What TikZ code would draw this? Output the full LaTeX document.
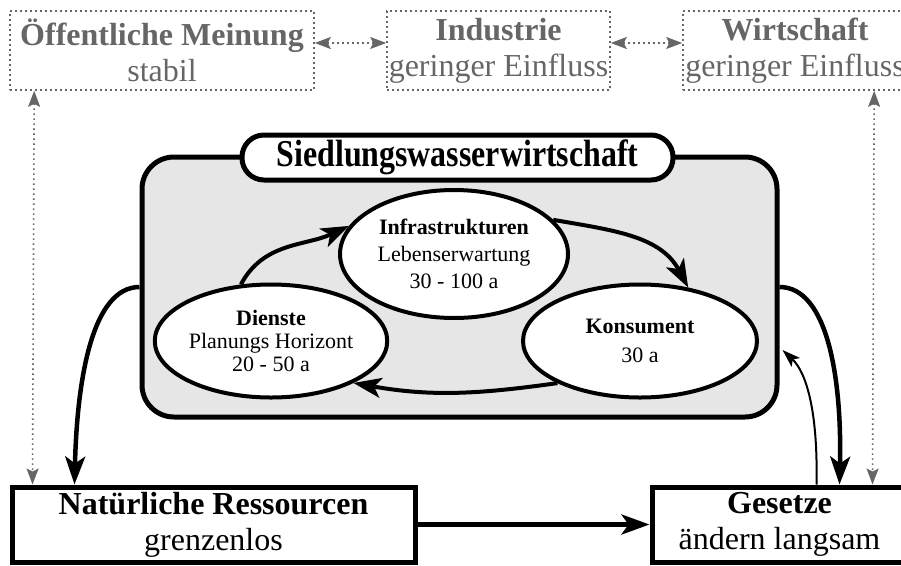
\documentclass[tikz,border=0pt]{standalone}
\usepackage{fontspec}
\usepackage{graphicx}
\setmainfont{Liberation Serif}
\usetikzlibrary{arrows.meta,shapes.geometric}
\definecolor{dgray}{HTML}{666666}
\definecolor{boxgray}{HTML}{E6E6E6}
\tikzset{
  big/.style={font=\fontsize{32}{36}\selectfont},
  small/.style={font=\fontsize{22}{27}\selectfont},
  topbox/.style={draw=dgray, text=dgray, line width=1.6pt, dash pattern=on 1.6pt off 3.4pt, inner sep=0pt, align=center, big},
  botbox/.style={draw=black, line width=5pt, fill=white, inner sep=0pt, align=center, big},
  ell/.style={ellipse, draw=black, line width=4pt, fill=white, inner sep=0pt, align=center, small},
  bigarr/.style={line width=4.5pt, -{Stealth[length=28pt,width=20pt,inset=7pt]}},
  ellarr/.style={line width=4pt, -{Stealth[length=28pt,width=20pt,inset=7pt]}},
  thinarr/.style={line width=2pt, -{Stealth[length=18pt,width=12pt,inset=4pt]}},
  dotarr/.style={draw=dgray, line width=1.6pt, dash pattern=on 1.6pt off 3.4pt, {Stealth[length=16pt,width=12pt,inset=3pt,fill=dgray]}-{Stealth[length=16pt,width=12pt,inset=3pt,fill=dgray]}},
}
\begin{document}
\begin{tikzpicture}[x=1pt,y=-1pt]
\useasboundingbox (0,0) rectangle (901,565);
% top boxes
\node[topbox, minimum width=304pt, minimum height=79pt] (oef) at (162,50.5) {\textbf{Öffentliche Meinung}\\stabil};
\node[topbox, minimum width=223pt, minimum height=79pt] (ind) at (498.5,50.5) {\textbf{Industrie}\\geringer Einfluss};
\node[topbox, minimum width=224pt, minimum height=79pt] (wir) at (795,50.5) {\textbf{Wirtschaft}\\geringer Einfluss};
\draw[dotarr] ([yshift=7.5pt]oef.east) -- ([yshift=7.5pt]ind.west);
\draw[dotarr] ([yshift=7.5pt]ind.east) -- ([yshift=7.5pt]wir.west);
% central box
\node[draw=black, line width=5pt, fill=boxgray, rounded corners=32pt, minimum width=635pt, minimum height=260pt, inner sep=0pt] (swb) at (459.5,287) {};
\node[draw=black, line width=5pt, fill=white, rounded corners=22pt, minimum width=431pt, minimum height=45pt, inner sep=0pt, font=\fontsize{38}{40}\selectfont\bfseries] (title) at (457.5,157.5) {\scalebox{0.84}[1]{Siedlungswasserwirtschaft}};
% ellipses
\node[ell, minimum width=228pt, minimum height=128pt] (inf) at (454,254) {\textbf{Infrastrukturen}\\Lebenserwartung\\30 - 100 a};
\node[ell, minimum width=232pt, minimum height=113pt, font=\fontsize{22}{23}\selectfont] (die) at (271,341) {\textbf{Dienste}\\Planungs Horizont\\20 - 50 a};
\node[ell, minimum width=234pt, minimum height=113pt, font=\fontsize{22}{29}\selectfont] (kon) at (640,341) {\textbf{Konsument}\\30 a};
\draw[ellarr] (die.118) to[out=62,in=205] (inf.165);
\draw[ellarr] (inf.19) to[out=-10,in=118] (kon.48);
\draw[ellarr] (kon.207) to[out=188,in=-10] (die.333);
% bottom boxes
\node[botbox, minimum width=403pt, minimum height=75pt] (nat) at (213.5,524.5) {\textbf{Natürliche Ressourcen}\\grenzenlos};
\node[botbox, minimum width=255pt, minimum height=75pt] (ges) at (779.5,524.5) {\textbf{Gesetze}\\ändern langsam};
\draw[bigarr] (nat.east) -- (ges.west);
\draw[bigarr] (swb.west) .. controls (92,287) and (77,380) .. ([xshift=65pt]nat.north west);
\draw[bigarr] (swb.east) .. controls (828,287) and (842,380) .. ([xshift=190pt]ges.north west);
\draw[thinarr] ([xshift=167pt]ges.north west) .. controls (818,410) and (806,372) .. ([xshift=3pt,yshift=-63pt]swb.east);
% vertical dotted
\draw[dotarr] ([xshift=25pt]oef.south west) -- ([xshift=23pt]nat.north west);
\draw[dotarr] ([xshift=192pt]wir.south west) -- ([xshift=223pt]ges.north west);
\end{tikzpicture}
\end{document}
